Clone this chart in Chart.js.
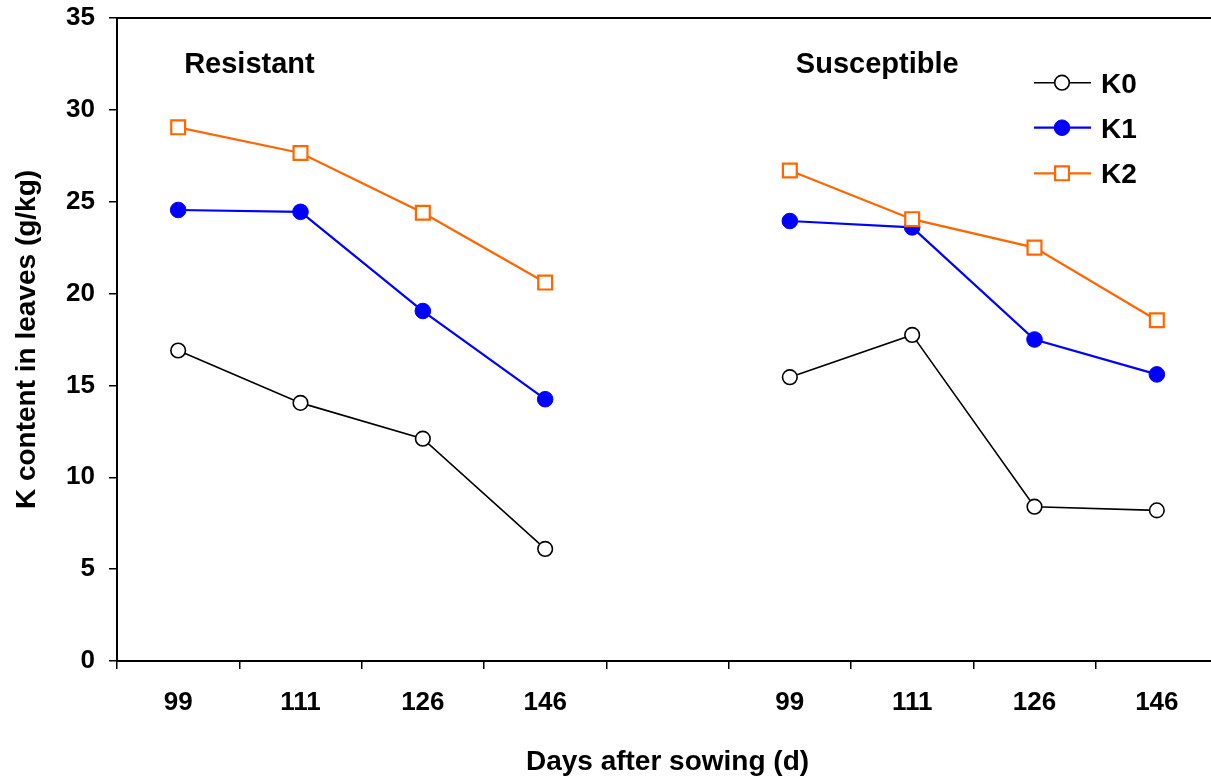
<!DOCTYPE html>
<html>
<head>
<meta charset="utf-8">
<script src="https://cdn.jsdelivr.net/npm/chart.js@4/dist/chart.umd.min.js"></script>
<style>
  html, body { margin: 0; padding: 0; background: #fff; overflow: hidden; }
  #wrap { width: 1211px; height: 781px; overflow: hidden; position: relative; }
  canvas { display: block; }
</style>
</head>
<body>
<div id="wrap"><canvas id="c" width="1230" height="781" style="width:1230px;height:781px"></canvas></div>
<script>
// Category labels (days after sowing); empty slot separates Resistant / Susceptible groups
const categories = ['99', '111', '126', '146', '', '99', '111', '126', '146'];
// K content in leaves (g/kg)
const k0 = [16.9, 14.05, 12.1, 6.1, null, 15.45, 17.75, 8.4, 8.2];
const k1 = [24.55, 24.45, 19.05, 14.25, null, 23.95, 23.6, 17.5, 15.6];
const k2 = [29.05, 27.65, 24.4, 20.6, null, 26.7, 24.05, 22.5, 18.55];
const seriesNames = ['K0', 'K1', 'K2'];
const groupNames = ['Resistant', 'Susceptible'];
const groupStartIndex = [0, 5];
const groupLabelValue = 32;
const yTicks = [0, 5, 10, 15, 20, 25, 30, 35];

const FONT = "'Liberation Sans', Arial, Helvetica, sans-serif";
const ORANGE = '#FF6600', BLUE = '#0000FF', BLACK = '#000000';

const styles = [
  { color: BLACK, fill: '#FFFFFF', pointStyle: 'circle', radius: 7.3, bw: 1.6, lw: 1.6 },
  { color: BLUE, fill: BLUE, pointStyle: 'circle', radius: 7.8, bw: 1, lw: 2.2 },
  { color: ORANGE, fill: '#FFFFFF', pointStyle: 'rect', radius: 9.8, bw: 2.2, lw: 2.2 }
];

const frameAndText = {
  id: 'frameAndText',
  afterDraw(chart) {
    const { ctx, chartArea: a, scales } = chart;
    ctx.save();
    // frame
    ctx.strokeStyle = BLACK;
    ctx.lineWidth = 2;
    ctx.strokeRect(a.left, a.top, a.right - a.left, a.bottom - a.top);
    // group labels
    ctx.fillStyle = BLACK;
    ctx.font = 'bold 29px ' + FONT;
    ctx.textAlign = 'left';
    ctx.textBaseline = 'alphabetic';
    groupNames.forEach((g, i) => {
      const x = scales.x.getPixelForValue(groupStartIndex[i]) + 6;
      const y = scales.y.getPixelForValue(groupLabelValue);
      ctx.fillText(g, x, y);
    });
    // legend
    const rows = [82.7, 127.7, 173.3];
    seriesNames.forEach((n, i) => {
      const s = styles[i];
      const y = rows[i];
      const x0 = a.right - 184, x1 = a.right - 127, xm = a.right - 156;
      ctx.strokeStyle = s.color;
      ctx.lineWidth = s.lw;
      ctx.beginPath(); ctx.moveTo(x0, y); ctx.lineTo(x1, y); ctx.stroke();
      ctx.fillStyle = s.fill;
      ctx.lineWidth = s.bw;
      ctx.beginPath();
      if (s.pointStyle === 'circle') {
        ctx.arc(xm, y, s.radius, 0, Math.PI * 2);
      } else {
        const h = s.radius * Math.SQRT1_2;
        ctx.rect(xm - h, y - h, 2 * h, 2 * h);
      }
      ctx.fill(); ctx.stroke();
      ctx.fillStyle = BLACK;
      ctx.font = 'bold 28px ' + FONT;
      ctx.fillText(n, a.right - 117, y + 10);
    });
    ctx.restore();
  }
};

function zeroPad(scale) {
  scale.paddingTop = 0; scale.paddingBottom = 0;
  scale.paddingLeft = 0; scale.paddingRight = 0;
}

const data = {
  labels: categories,
  datasets: [k0, k1, k2].map((arr, i) => ({
    label: seriesNames[i],
    data: arr,
    borderColor: styles[i].color,
    backgroundColor: styles[i].fill,
    pointBackgroundColor: styles[i].fill,
    pointBorderColor: styles[i].color,
    pointBorderWidth: styles[i].bw,
    pointStyle: styles[i].pointStyle,
    pointRadius: styles[i].radius,
    borderWidth: styles[i].lw,
    spanGaps: false,
    tension: 0,
    fill: false,
    clip: false,
    order: 2 - i
  }))
};

new Chart(document.getElementById('c'), {
  type: 'line',
  data,
  options: {
    responsive: false,
    animation: false,
    events: [],
    layout: { padding: { top: 18, right: 4, left: 0, bottom: 0 } },
    plugins: { legend: { display: false }, tooltip: { enabled: false } },
    scales: {
      x: {
        type: 'category',
        offset: true,
        grid: { offset: true, drawOnChartArea: false, drawTicks: true, tickLength: 8, color: BLACK, lineWidth: 1.5 },
        border: { display: false },
        ticks: { color: BLACK, font: { family: FONT, size: 26, weight: 'bold' }, padding: 18, maxRotation: 0, autoSkip: false },
        title: { display: true, text: 'Days after sowing (d)', color: BLACK, font: { family: FONT, size: 28, weight: 'bold' }, padding: { top: 0, bottom: 2 } },
        afterFit(scale) { scale.height = 120; zeroPad(scale); }
      },
      y: {
        min: 0, max: 35,
        afterBuildTicks(scale) { scale.ticks = yTicks.map(v => ({ value: v })); },
        grid: { drawOnChartArea: false, drawTicks: true, tickLength: 8, color: BLACK, lineWidth: 1.5 },
        border: { display: false },
        ticks: { color: BLACK, font: { family: FONT, size: 26, weight: 'bold' }, padding: 14 },
        title: { display: true, text: 'K content in leaves (g/kg)', color: BLACK, font: { family: FONT, size: 28, weight: 'bold' }, padding: { top: 10, bottom: 0 } },
        afterFit(scale) { scale.width = 117; zeroPad(scale); }
      }
    }
  },
  plugins: [frameAndText]
});
</script>
</body>
</html>
